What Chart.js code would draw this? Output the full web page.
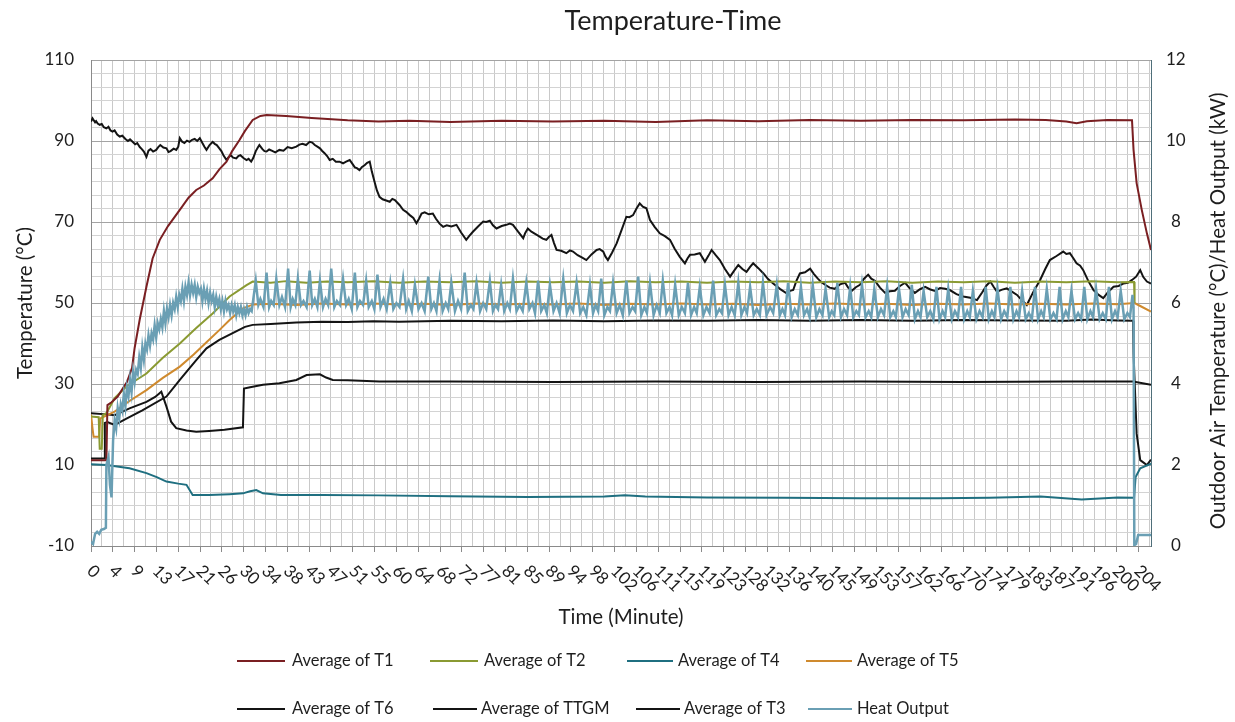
<!DOCTYPE html>
<html>
<head>
<meta charset="utf-8">
<script src="https://cdn.jsdelivr.net/npm/chart.js@4.4.0/dist/chart.umd.min.js"></script>
<style>
html,body{margin:0;padding:0;background:#ffffff;}
#wrap{width:1235px;height:722px;position:relative;}
</style>
</head>
<body>
<div id="wrap"><canvas id="c" width="1235" height="722"></canvas></div>
<script>
// ---------------- DATA ----------------
const chartTitle = 'Temperature-Time';
const xTitle = 'Time (Minute)';
const yTitle = 'Temperature (°C)';
const y2Title = 'Outdoor Air Temperature (°C)/Heat Output (kW)';

// category labels printed under the time axis (one every 4.25 minutes)
const xLabels = ['0','4','9','13','17','21','26','30','34','38','43','47','51','55','60','64','68','72','77','81','85','89','94','98','102','106','111','115','119','123','128','132','136','140','145','149','153','157','162','166','170','174','179','183','187','191','196','200','204'];
const LABEL_STEP = 4.25;
const X_MAX = 206.5;
const yLabels = ['-10','10','30','50','70','90','110'];
const y2Labels = ['0','2','4','6','8','10','12'];

// [minute, °C]
const t1 = [[0,11.2],[3.0,11.2],[3.2,24.8],[4,25.5],[5.2,26.9],[6,28.5],[7,30.5],[8,34],[8.5,38.9],[9.5,46],[10.8,54],[12,61],[13.4,65.6],[15,69],[17.3,73],[19,76],[20.5,77.9],[22,79],[23.7,80.8],[25,83],[26.4,84.9],[27.5,87.5],[28.9,90.2],[30,92.5],[31.5,95.2],[33,96.2],[34.2,96.4],[38,96.2],[43,95.7],[50,95.1],[56,94.8],[62,95.0],[70,94.7],[80,95.0],[90,94.8],[100,95.0],[110,94.7],[120,95.1],[130,94.9],[140,95.2],[150,95.0],[160,95.2],[170,95.1],[180,95.3],[186,95.2],[190,94.8],[192,94.4],[194,94.9],[198,95.2],[202.8,95.1],[203.1,87.8],[203.7,79.6],[204.7,73.0],[205.7,67.2],[206.5,63.1]];

const t2 = [[0,22],[1.5,21.8],[1.7,14],[2.1,14],[2.3,22.3],[3.0,22.8],[4.6,26.5],[7,29.5],[10.8,32.6],[14,36.5],[17.3,40],[20.5,43.8],[23.7,47.4],[27,51.6],[30.3,54.4],[31.5,55.3],[35,55.0],[38,55.4],[42,55.0],[46,55.3],[50,55.1],[55,55.4],[60,55.0],[65,55.3],[70,55.1],[75,55.4],[80,55.0],[85,55.3],[90,55.1],[95,55.3],[100,55.0],[105,55.4],[110,55.1],[115,55.3],[120,55.0],[125,55.3],[130,55.1],[135,55.4],[140,55.0],[145,55.3],[150,55.1],[155,55.4],[160,55.0],[165,55.3],[170,55.1],[175,55.4],[180,55.0],[185,55.3],[190,55.1],[195,55.4],[200,55.1],[203.2,55.2],[203.3,50.0]];

const t4 = [[0,10.2],[3,10.0],[7.5,9.2],[10.8,8.0],[12.8,7.0],[14.7,5.9],[17,5.4],[18.6,5.1],[19.8,2.6],[23,2.6],[27,2.8],[29.6,3.0],[31,3.5],[32.2,3.8],[33.5,3.0],[37,2.6],[45,2.6],[56,2.5],[70,2.3],[85,2.1],[100,2.2],[104,2.5],[108,2.2],[120,2.0],[135,1.9],[150,1.8],[165,1.8],[175,1.9],[185,2.2],[193,1.5],[200,2.0],[203.2,1.9],[203.5,7.0],[204.4,9.2],[206.5,10.3]];

const t5 = [[0,22.5],[0.3,19],[0.5,17],[1.6,17],[1.8,21.5],[3.0,22.2],[4.6,23.2],[7.5,25.8],[10.8,28.5],[14,31.5],[17.3,34.3],[20,37.3],[22.5,40.3],[25,43.3],[27,45.8],[29.6,48.7],[31.5,49.6],[35,49.8],[40,49.5],[45,49.9],[50,49.6],[55,49.9],[60,49.6],[65,49.8],[70,49.5],[75,49.9],[80,49.6],[85,49.8],[90,49.6],[95,49.9],[100,49.5],[105,49.8],[110,49.6],[115,49.9],[120,49.6],[125,49.8],[130,49.5],[135,49.8],[140,49.6],[145,49.9],[150,49.6],[155,49.8],[160,49.5],[165,49.8],[170,49.6],[175,49.9],[180,49.6],[185,49.8],[190,49.6],[195,49.9],[200,49.7],[203.3,50.0],[204.5,49.2],[206.5,47.9]];

const t6 = [[0,11.6],[2.6,11.6],[2.7,20.4],[3.2,20.6],[4.6,19.9],[7,21.5],[10,23.5],[14.7,26.9],[17.3,31.0],[20.5,35.9],[22.5,38.8],[25,40.9],[27.5,42.5],[30,44.1],[31.5,44.6],[35,44.8],[40,45.2],[45,45.4],[50,45.3],[55,45.5],[60,45.4],[70,45.6],[80,45.5],[90,45.7],[100,45.5],[110,45.7],[120,45.6],[130,45.8],[140,45.6],[150,45.8],[160,45.6],[170,45.8],[180,45.7],[190,45.6],[195,45.9],[200,45.7],[203.0,45.6],[203.1,37.6],[203.7,17.8],[204.4,11.2],[205.7,10.0],[206.5,11.3]];

const ttgm = [[0,94.8],[0.3,95.6],[0.5,95.2],[0.8,94.6],[1.0,94.9],[1.3,94.3],[1.7,94.0],[2.1,94.2],[2.5,93.4],[3.0,93.1],[3.4,93.5],[3.8,92.6],[4.2,92.3],[4.6,92.6],[5.1,91.6],[5.6,91.1],[6.1,91.3],[6.7,90.5],[7.2,90.0],[7.6,90.4],[8.1,89.8],[8.6,89.2],[9.0,89.5],[9.5,88.5],[9.9,88.0],[10.3,87.4],[10.8,86.1],[11.2,87.6],[11.6,88.0],[12.1,87.4],[12.7,87.8],[13.1,88.5],[13.5,89.0],[14.1,88.4],[14.7,88.2],[15.1,87.3],[15.5,87.5],[16.1,88.1],[16.6,87.8],[17.0,88.6],[17.3,90.7],[17.7,89.9],[18.2,89.5],[18.7,90.1],[19.2,89.8],[19.7,90.3],[20.2,90.5],[20.7,90.0],[21.2,90.7],[21.7,89.5],[22.1,88.6],[22.5,87.8],[23.1,89.0],[23.7,89.8],[24.1,89.3],[24.5,89.0],[25.0,88.2],[25.4,87.5],[25.8,86.5],[26.4,85.3],[26.8,86.0],[27.2,86.5],[27.7,85.9],[28.3,85.7],[28.7,86.3],[29.1,86.5],[29.7,85.8],[30.3,85.3],[30.7,85.6],[31.2,84.9],[31.6,85.8],[32.1,87.5],[32.5,88.4],[32.8,89.0],[33.4,88.0],[33.8,87.5],[34.2,87.4],[34.7,87.9],[35.2,87.6],[35.9,87.2],[36.7,87.8],[37.5,87.6],[38.3,88.5],[39.1,88.2],[40.0,88.6],[40.6,89.1],[41.2,89.3],[41.9,89.0],[42.6,89.8],[43.1,89.6],[43.6,89.0],[44.1,88.6],[44.6,88.2],[45.0,87.6],[45.5,87.0],[46.0,86.3],[46.5,85.3],[47.1,85.6],[47.7,84.9],[48.4,84.9],[49.1,84.5],[49.7,84.9],[50.4,85.3],[50.9,84.4],[51.4,83.5],[51.8,83.3],[52.3,82.8],[52.8,83.6],[53.3,84.0],[53.8,84.6],[54.3,84.9],[54.7,82.5],[55.3,79.6],[55.7,77.8],[56.2,76.2],[56.8,75.6],[57.5,75.3],[58.2,75.0],[58.7,75.7],[59.2,75.4],[60.1,74.2],[60.8,73.0],[61.4,72.5],[62.1,71.7],[62.8,71.0],[63.4,69.7],[63.9,70.8],[64.4,72.1],[65.0,72.4],[65.8,71.9],[66.6,72.1],[67.2,70.8],[67.9,69.6],[68.6,68.8],[69.3,69.2],[70.2,68.9],[71.2,69.3],[72.1,67.4],[73.1,65.6],[73.7,66.6],[74.4,67.6],[75.4,68.9],[76.4,70.1],[77.0,70.0],[77.7,70.3],[78.3,69.2],[79.0,68.4],[80.0,69.0],[80.9,69.3],[81.6,69.6],[82.2,69.3],[83.2,67.6],[84.2,66.0],[84.6,67.3],[85.1,68.4],[85.8,67.6],[86.6,67.0],[87.4,66.4],[88.0,65.9],[88.7,65.6],[89.2,66.3],[89.7,66.8],[90.2,64.8],[90.7,63.1],[91.6,62.9],[92.6,62.3],[93.3,63.0],[93.9,62.7],[94.8,61.8],[95.7,61.2],[96.5,60.6],[97.5,62.0],[98.5,63.1],[99.1,63.3],[99.8,62.7],[100.2,61.5],[100.7,60.6],[101.5,62.4],[102.4,64.7],[103.3,67.8],[104.3,71.3],[104.9,71.2],[105.6,71.7],[106.3,73.4],[106.9,74.6],[107.5,73.8],[108.2,73.4],[108.9,70.5],[109.8,68.8],[110.8,67.2],[111.8,66.5],[112.8,65.6],[113.7,63.4],[114.7,61.4],[115.7,59.8],[116.2,61.0],[116.7,61.9],[117.6,62.0],[118.6,62.3],[119.6,60.2],[120.3,61.7],[120.9,63.1],[121.7,61.8],[122.5,60.6],[123.5,58.4],[124.5,56.5],[125.3,58.0],[126.1,59.4],[126.9,58.4],[127.7,57.7],[128.4,58.9],[129.0,59.8],[130.0,58.6],[131.0,57.3],[131.9,55.9],[132.9,54.8],[134.2,53.5],[135.5,52.4],[136.2,53.0],[136.8,53.2],[137.4,55.4],[138.1,57.3],[139.1,57.6],[140.1,58.5],[140.8,57.2],[141.6,56.0],[142.3,55.1],[143.0,54.5],[143.9,53.8],[144.9,53.5],[145.9,54.6],[146.9,55.0],[147.5,53.8],[148.2,53.0],[149.0,53.9],[149.8,54.5],[150.6,56.0],[151.4,57.0],[152.0,56.0],[152.7,55.5],[153.7,53.8],[154.7,52.5],[155.6,52.9],[156.6,53.0],[157.6,54.2],[158.6,55.0],[159.5,53.6],[160.5,52.5],[161.5,53.4],[162.5,54.0],[163.4,53.4],[164.4,53.0],[165.4,53.7],[166.4,53.5],[167.3,53.2],[168.6,52.2],[169.9,51.6],[171.3,51.3],[172.6,50.7],[173.6,52.6],[174.5,54.4],[175.2,55.3],[175.9,53.9],[176.5,52.8],[177.5,53.3],[178.4,53.6],[179.4,52.8],[180.4,52.0],[181.4,50.6],[182.3,49.5],[183.6,52.8],[184.9,55.7],[185.9,58.4],[186.8,60.6],[188.1,61.6],[189.4,62.7],[190.0,62.1],[190.7,62.3],[191.4,61.0],[192.0,59.8],[192.7,59.2],[193.3,58.1],[194.3,55.4],[195.3,53.2],[196.3,52.0],[197.2,51.2],[198.2,52.8],[199.2,54.0],[200.2,54.2],[201.1,54.8],[202.0,55.0],[202.8,55.7],[203.6,56.5],[204.4,58.1],[205.0,56.4],[205.7,55.3],[206.5,54.8]];

const t3 = [[0,22.8],[3,22.5],[4.6,22.3],[7.5,24.0],[10.8,25.6],[12.5,26.8],[13.7,28.1],[14.7,24.4],[15.6,20.7],[16.6,19.1],[18.6,18.5],[20.5,18.2],[23,18.4],[26,18.7],[29.6,19.3],[29.8,28.9],[31,29.2],[33.5,29.8],[36.7,30.2],[40,31.0],[42,32.2],[44.6,32.4],[45.8,31.6],[47.1,31.0],[50,30.9],[56.2,30.6],[70,30.6],[90,30.5],[110,30.6],[130,30.5],[150,30.6],[170,30.5],[190,30.6],[203,30.6],[206.5,29.8]];

// [minute, kW]  (right axis)
const heatOutput = [[0,0.1],[0.4,0.05],[0.8,0.3],[1.2,0.35],[1.6,0.3],[2.0,0.4],[2.5,0.42],[2.9,0.45],[3.0,2.0],[3.4,2.2],[3.7,1.5],[4.0,1.2],
[4.3,2.6],[4.6,3.1],[4.9,2.9],[5.2,3.4],[5.5,3.15],[5.8,3.5],[6.1,3.35],[6.4,3.75],[6.7,3.45],[7.0,3.9],[7.3,3.7],[7.6,4.1],[7.9,3.8],[8.2,4.3],[8.5,4.05],[8.8,4.35],[9.1,4.25],[9.4,4.65],[9.7,4.4],[10.0,4.9],[10.3,4.6],[10.6,5.0],[10.9,4.85],[11.2,5.2],[11.5,4.95],[11.8,5.25],[12.1,5.1],[12.4,5.45],[12.7,5.15],[13.0,5.5],[13.3,5.35],[13.6,5.6],[13.9,5.4],[14.2,5.8],[14.5,5.5],[14.8,5.85],[15.1,5.65],[15.4,5.95],[15.7,5.7],[16.0,6.0],[16.3,5.85],[16.6,6.15],[16.9,5.9],[17.2,6.2],[17.5,6.05],[17.8,6.35],[18.1,6.05],[18.4,6.4],[18.7,6.2],[19.0,6.5],[19.3,6.2],[19.6,6.45],[19.9,6.25],[20.2,6.45],[20.5,6.15],[20.8,6.4],[21.1,6.25],[21.4,6.35],[21.7,6.05],[22.0,6.35],[22.3,6.1],[22.6,6.3],[22.9,6.0],[23.2,6.25],[23.5,6.05],[23.8,6.2],[24.1,5.9],[24.4,6.15],[24.7,5.95],[25.0,6.1],[25.3,5.85],[25.6,6.05],[25.9,5.8],[26.2,6.05],[26.5,5.85],[26.8,5.95],[27.1,5.75],[27.4,5.95],[27.7,5.8],[28.0,5.95],[28.3,5.7],[28.6,5.9],[28.9,5.75],[29.2,5.9],[29.5,5.7],[29.8,5.85],[30.1,5.7],[30.4,5.9],[30.7,5.75],[31.0,5.85],[31.3,5.8],
[32.1,6.55],[32.6,5.95],[33.0,6.1],[33.6,5.9],[34.2,6.75],[34.7,5.9],[35.1,6.05],[35.6,5.95],[36.1,6.6],[36.7,5.95],[37.2,6.15],[37.8,5.9],[38.4,6.85],[38.9,5.9],[39.3,6.1],[39.8,5.95],[40.3,6.6],[40.9,5.95],[41.4,6.05],[42.0,5.9],[42.6,6.8],[43.1,5.95],[43.6,6.1],[44.1,5.9],[44.6,6.55],[45.2,5.9],[45.7,6.1],[46.2,5.95],[46.8,6.85],[47.4,5.9],[47.9,6.05],[48.5,5.95],[49.1,6.6],[49.7,5.95],[50.2,6.1],[50.8,5.85],[51.4,6.75],[51.9,5.9],[52.4,6.05],[53.0,5.95],[53.6,6.55],[54.1,5.9],[54.7,6.05],[55.2,5.85],[55.8,6.7],[56.4,5.9],[57.0,6.1],[57.6,5.85],
[58.3,6.5],[58.9,5.85],[59.5,6.0],[60.1,5.9],[60.8,6.6],[61.4,5.85],[61.9,6.05],[62.5,5.8],[63.1,6.45],[63.8,5.85],[64.4,6.0],[65.0,5.8],[65.7,6.65],[66.3,5.85],[66.8,6.0],[67.3,5.8],[67.9,6.55],[68.5,5.8],[69.1,6.0],[69.6,5.85],[70.2,6.5],[70.9,5.8],[71.5,6.05],[72.1,5.85],[72.8,6.75],[73.4,5.8],[74.0,5.95],[74.5,5.85],[75.1,6.5],[75.8,5.8],[76.4,6.0],[77.0,5.85],[77.7,6.55],[78.3,5.8],[78.8,5.95],[79.3,5.85],[79.9,6.45],[80.5,5.8],[81.1,6.0],[81.6,5.85],[82.2,6.6],[82.9,5.8],[83.5,5.95],[84.1,5.8],[84.8,6.5],[85.4,5.85],[86.0,6.0],[86.5,5.75],[87.1,6.55],[87.7,5.8],[88.3,5.95],[88.8,5.75],[89.4,6.45],[90.1,5.8],[90.7,6.0],[91.3,5.75],[92.0,6.6],[92.7,5.75],[93.3,5.95],[93.9,5.8],[94.6,6.5],[95.3,5.75],[95.9,5.9],[96.5,5.7],[97.2,6.45],[97.8,5.75],[98.3,5.95],[98.8,5.8],[99.4,6.6],[100.0,5.7],[100.6,5.9],[101.1,5.8],[101.7,6.5],[102.4,5.75],[103.0,5.95],[103.6,5.7],[104.3,6.55],[104.9,5.75],[105.5,5.9],[106.0,5.8],[106.6,6.65],[107.2,5.7],[107.8,5.9],[108.3,5.75],[108.9,6.5],[109.6,5.7],[110.2,5.95],[110.8,5.75],[111.4,6.55],[112.1,5.75],[112.7,5.9],[113.2,5.7],[113.8,6.45],[114.5,5.7],[115.1,5.9],[115.7,5.75],[116.3,6.5],[116.9,5.7],[117.5,5.9],[118.0,5.75],[118.6,6.4],[119.3,5.7],[119.9,5.9],[120.5,5.75],[121.2,6.55],[121.8,5.7],[122.4,5.85],[122.9,5.75],[123.5,6.45],[124.2,5.7],[124.8,5.9],[125.4,5.7],[126.1,6.5],[126.7,5.7],[127.3,5.9],[127.8,5.75],[128.4,6.4],[129.1,5.7],[129.7,5.85],[130.3,5.7],[130.9,6.5],[131.6,5.7],[132.3,5.9],[132.9,5.75],[133.6,6.45],[134.2,5.7],[134.7,5.85],[135.2,5.7],
[135.8,6.5],[136.5,5.65],[137.1,5.85],[137.7,5.7],[138.3,6.4],[138.9,5.7],[139.5,5.85],[140.0,5.65],[140.6,6.45],[141.3,5.65],[141.9,5.85],[142.5,5.7],[143.1,6.35],[143.8,5.65],[144.3,5.8],[144.8,5.7],[145.4,6.5],[146.1,5.65],[146.7,5.85],[147.3,5.7],[147.9,6.4],[148.5,5.65],[149.1,5.8],[149.6,5.7],[150.2,6.45],[150.9,5.65],[151.5,5.8],[152.0,5.65],[152.6,6.35],[153.3,5.65],[153.9,5.85],[154.5,5.7],[155.1,6.4],[155.7,5.65],[156.3,5.8],[156.8,5.65],[157.4,6.35],[158.1,5.65],[158.7,5.85],[159.3,5.7],[159.9,6.45],[160.5,5.6],[161.1,5.8],[161.6,5.65],[162.2,6.3],[162.9,5.65],[163.5,5.8],[164.1,5.6],[164.7,6.4],[165.3,5.6],[165.9,5.8],[166.4,5.65],[167.0,6.35],[167.7,5.6],[168.3,5.8],[168.9,5.65],[169.5,6.4],[170.1,5.6],[170.7,5.8],[171.2,5.65],[171.8,6.3],[172.5,5.6],[173.1,5.8],[173.7,5.65],[174.3,6.4],[174.9,5.6],[175.5,5.8],[176.0,5.65],[176.6,6.35],[177.3,5.6],[177.9,5.8],[178.5,5.65],[179.1,6.4],[179.7,5.6],[180.3,5.8],[180.8,5.65],[181.4,6.3],[182.1,5.6],[182.7,5.75],[183.3,5.6],[183.9,6.4],[184.5,5.6],[185.1,5.8],[185.6,5.65],[186.2,6.35],[186.9,5.6],[187.5,5.75],[188.1,5.6],[188.7,6.4],[189.3,5.6],[189.9,5.8],[190.4,5.65],[191.0,6.3],[191.7,5.6],[192.3,5.75],[192.9,5.6],[193.5,6.4],[194.1,5.6],[194.7,5.8],[195.2,5.65],[195.8,6.35],[196.5,5.6],[197.1,5.75],[197.7,5.6],[198.3,6.4],[198.9,5.6],[199.5,5.8],[200.0,5.65],[200.6,6.3],[201.3,5.6],[201.9,5.75],[202.4,5.65],[202.9,6.2],[203.1,5.9],[203.25,0.02],[203.6,0.05],[204.0,0.27],[206.5,0.27]];

// ---------------- STYLE ----------------
const FONT = 'Lato, "Open Sans", "Noto Sans", sans-serif';
const TEXT = '#1e1e1e';
const COL = {
  t1: '#7a1f22', t2: '#8a9a32', t4: '#1f6f80', t5: '#cf8a2e',
  blk: '#141414', ho: '#6a9fb4'
};

const series = [
  {label:'Average of T1', data:t1, color:COL.t1, axis:'y', order:3},
  {label:'Average of T2', data:t2, color:COL.t2, axis:'y', order:5},
  {label:'Average of T4', data:t4, color:COL.t4, axis:'y', order:2},
  {label:'Average of T5', data:t5, color:COL.t5, axis:'y', order:6},
  {label:'Average of T6', data:t6, color:COL.blk, axis:'y', order:4},
  {label:'Average of TTGM', data:ttgm, color:COL.blk, axis:'y', order:7},
  {label:'Average of T3', data:t3, color:COL.blk, axis:'y', order:8},
  {label:'Heat Output', data:heatOutput, color:COL.ho, axis:'y2', order:1}
];

const datasets = series.map(s => ({
  label: s.label,
  data: s.data.map(p => ({x:p[0], y:p[1]})),
  borderColor: s.color,
  backgroundColor: s.color,
  borderWidth: s.label === 'Heat Output' ? 2.5 : 2,
  pointRadius: 0,
  tension: 0,
  fill: false,
  yAxisID: s.axis,
  order: s.order
}));

// custom drawn titles, rotated tick labels and legend
const legendRows = [
  [{i:0, x0:237, x1:285, tx:292}, {i:1, x0:430, x1:478, tx:484}, {i:2, x0:627, x1:673, tx:678}, {i:3, x0:806, x1:852, tx:857}],
  [{i:4, x0:237, x1:285, tx:292}, {i:5, x0:433, x1:477, tx:481}, {i:6, x0:636, x1:680, tx:684}, {i:7, x0:808, x1:852, tx:857}]
];
const legendY = [661, 709];

const decor = {
  id: 'decor',
  afterDraw(chart) {
    const ctx = chart.ctx, xs = chart.scales.x, ca = chart.chartArea;
    ctx.save();
    ctx.fillStyle = TEXT;
    // title
    ctx.font = '27px ' + FONT;
    ctx.textAlign = 'center'; ctx.textBaseline = 'middle';
    ctx.fillText(chartTitle, 673, 21);
    // x tick labels rotated 45deg clockwise
    ctx.font = '17px ' + FONT;
    xLabels.forEach((lab, i) => {
      const px = xs.getPixelForValue(i * LABEL_STEP);
      ctx.save();
      ctx.translate(px - 1, ca.bottom + 22);
      ctx.rotate(Math.PI / 4);
      ctx.textAlign = 'left'; ctx.textBaseline = 'middle';
      ctx.fillText(lab, 0, 0);
      ctx.restore();
    });
    // axis titles
    ctx.font = '20.5px ' + FONT;
    ctx.textAlign = 'center'; ctx.textBaseline = 'middle';
    ctx.fillText(xTitle, (ca.left + ca.right) / 2, 617);
    ctx.save(); ctx.translate(25, (ca.top + ca.bottom) / 2); ctx.rotate(-Math.PI / 2);
    ctx.fillText(yTitle, 0, 0); ctx.restore();
    ctx.save(); ctx.translate(1218, (ca.top + ca.bottom) / 2 + 8); ctx.rotate(-Math.PI / 2);
    ctx.fillText(y2Title, 0, 0); ctx.restore();
    // legend
    ctx.font = '16.5px ' + FONT;
    ctx.textAlign = 'left'; ctx.textBaseline = 'middle';
    legendRows.forEach((row, r) => {
      const y = legendY[r];
      row.forEach(it => {
        const s = series[it.i];
        ctx.strokeStyle = s.color; ctx.lineWidth = 2;
        ctx.beginPath(); ctx.moveTo(it.x0, y); ctx.lineTo(it.x1, y); ctx.stroke();
        ctx.fillStyle = TEXT;
        ctx.fillText(s.label, it.tx, y);
      });
    });
    ctx.restore();
  }
};

new Chart(document.getElementById('c'), {
  type: 'line',
  data: { datasets },
  plugins: [decor],
  options: {
    responsive: false,
    animation: false,
    devicePixelRatio: 1,
    layout: { padding: { top: 60, left: 0, right: 0, bottom: 0 } },
    plugins: { legend: { display: false }, title: { display: false }, tooltip: { enabled: false } },
    scales: {
      x: {
        type: 'linear', min: 0, max: X_MAX,
        afterBuildTicks: s => {
          const arr = [];
          for (let k = 0; k * LABEL_STEP / 2 <= X_MAX; k++) arr.push({ value: k * LABEL_STEP / 2 });
          s.ticks = arr;
        },
        ticks: { display: false, autoSkip: false },
        grid: {
          color: '#c9c9c9', lineWidth: 1,
          drawTicks: true, tickLength: 6,
          tickColor: c => (c.index % 2 === 0 ? '#8a8a8a' : 'rgba(0,0,0,0)')
        },
        border: { display: true, color: '#8a8a8a', width: 1 },
        afterFit: s => { s.height = 176; }
      },
      y: {
        type: 'linear', position: 'left', min: -10, max: 110,
        afterBuildTicks: s => {
          const arr = [];
          for (let k = 0; k <= 36; k++) arr.push({ value: -10 + k * 20 / 6 });
          s.ticks = arr;
        },
        ticks: {
          autoSkip: false, padding: 17, color: TEXT,
          font: { family: FONT, size: 17 },
          callback: (v, i) => (i % 6 === 0 ? yLabels[i / 6] : '')
        },
        grid: {
          drawTicks: false,
          color: c => (c.index % 6 === 0 ? '#a3a3a3' : '#d3d3d3')
        },
        border: { display: true, color: '#8a8a8a' },
        afterFit: s => { s.width = 91; }
      },
      y2: {
        type: 'linear', position: 'right', min: 0, max: 12,
        afterBuildTicks: s => {
          s.ticks = y2Labels.map(l => ({ value: Number(l) }));
        },
        ticks: {
          autoSkip: false, padding: 15, crossAlign: 'center', color: TEXT,
          font: { family: FONT, size: 17 },
          callback: (v, i) => y2Labels[i]
        },
        grid: { drawOnChartArea: false, drawTicks: false },
        border: { display: true, color: '#4f6f7a' },
        afterFit: s => { s.width = 84; }
      }
    }
  }
});
</script>
</body>
</html>
